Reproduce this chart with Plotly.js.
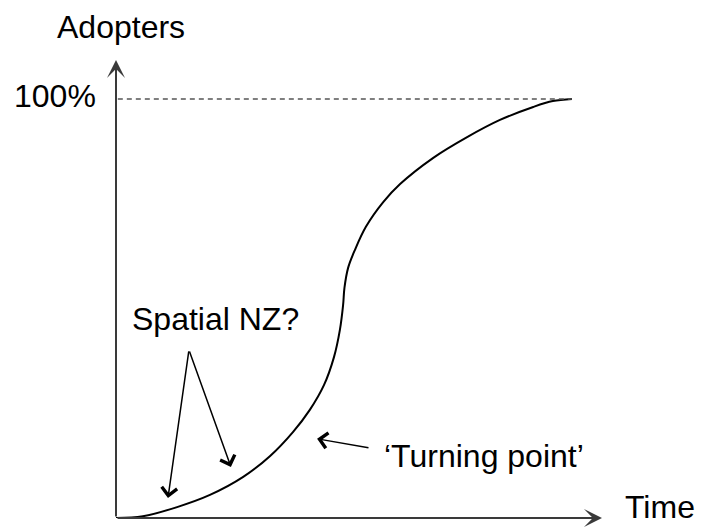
<!DOCTYPE html>
<html>
<head>
<meta charset="utf-8">
<script src="https://cdn.plot.ly/plotly-3.0.1.min.js"></script>
<style>html,body{margin:0;padding:0;background:#fff;}#chart{width:704px;height:527px;}</style>
</head>
<body>
<div id="chart"></div>
<script>
// S-curve of adoption (time 0..100, adopters % 0..100)
const timeVals  = [0, 5.9, 13.4, 20.6, 27.9, 33.8, 38.8, 42.5, 45.6, 47.8, 49.1, 49.8, 50.1, 50.9, 52.4, 54.8, 58.6, 62.3, 69.5, 77.0, 84.2, 91.5, 95.8, 100];
const adoptVals = [0, 0.4, 2.6, 5.5, 9.8, 14.8, 20.5, 25.8, 31.7, 38.4, 44.9, 50.8, 54.9, 59.7, 64.0, 69.5, 75.4, 79.7, 85.9, 90.9, 95.0, 98.1, 99.5, 100];

const yAxisLabel = 'Adopters';
const xAxisLabel = 'Time';
const fullLabel = '100%';
const noteSpatial = 'Spatial NZ?';
const noteTurning = '\u2018Turning point\u2019';

const FONT = 'Arial, "Liberation Sans", sans-serif';
const FS = 32;
const AX = '#3a3a3a';

const traces = [{
  x: timeVals, y: adoptVals, type: 'scatter', mode: 'lines',
  line: {color: '#000', width: 2, shape: 'spline', smoothing: 1},
  hoverinfo: 'skip', showlegend: false
}];

function textNote(t, x, y, xa, ref) {
  return {text: t, x: x, y: y, xref: ref ? 'paper' : 'x', yref: ref ? 'paper' : 'y', showarrow: false,
          xanchor: xa || 'center', yanchor: 'middle',
          font: {family: FONT, size: FS, color: '#000'}};
}
function arrow(x, y, ax, ay, head, size, width, color) {
  return {text: '', x: x, y: y, ax: ax, ay: ay, xref: 'x', yref: 'y', axref: 'x', ayref: 'y',
          showarrow: true, arrowhead: head, arrowsize: size, arrowwidth: width,
          arrowcolor: color, standoff: 0, startstandoff: 0};
}

const layout = {
  width: 704, height: 527,
  margin: {l: 116, r: 102, t: 60, b: 9},
  paper_bgcolor: '#fff', plot_bgcolor: '#fff',
  showlegend: false,
  xaxis: {range: [0, 106.58], showgrid: false, zeroline: false, showticklabels: false, showline: false, ticks: '', fixedrange: true},
  yaxis: {range: [0, 109.31], showgrid: false, zeroline: false, showticklabels: false, showline: false, ticks: '', fixedrange: true},
  shapes: [{type: 'line', xref: 'x', yref: 'y', x0: 0.4, x1: 100, y0: 100, y1: 100,
            line: {color: '#555', width: 1.5, dash: '5px,4px'}}],
  annotations: [
    arrow(0, 109.31, 0, 0, 3, 1.5, 2, AX),
    arrow(106.58, 0, 0, 0, 3, 1.5, 2, AX),
    arrow(11.4, 4.8, 16.0, 40.1, 4, 2.0, 1.5, '#000'),
    arrow(25.2, 12.2, 16.0, 40.1, 4, 2.0, 1.5, '#000'),
    arrow(44.1, 18.9, 55.7, 16.7, 4, 2.0, 1.5, '#000'),
    textNote(yAxisLabel, 0.0103, 1.071, 'center', true),
    textNote(fullLabel, -0.037, 0.922, 'right', true),
    textNote(noteSpatial, 21.9, 47.6),
    textNote(noteTurning, 58.3, 14.8, 'left'),
    textNote(xAxisLabel, 1.043, 0.024, 'left', true)
  ]
};

Plotly.newPlot('chart', traces, layout, {staticPlot: true, displayModeBar: false});
</script>
</body>
</html>
